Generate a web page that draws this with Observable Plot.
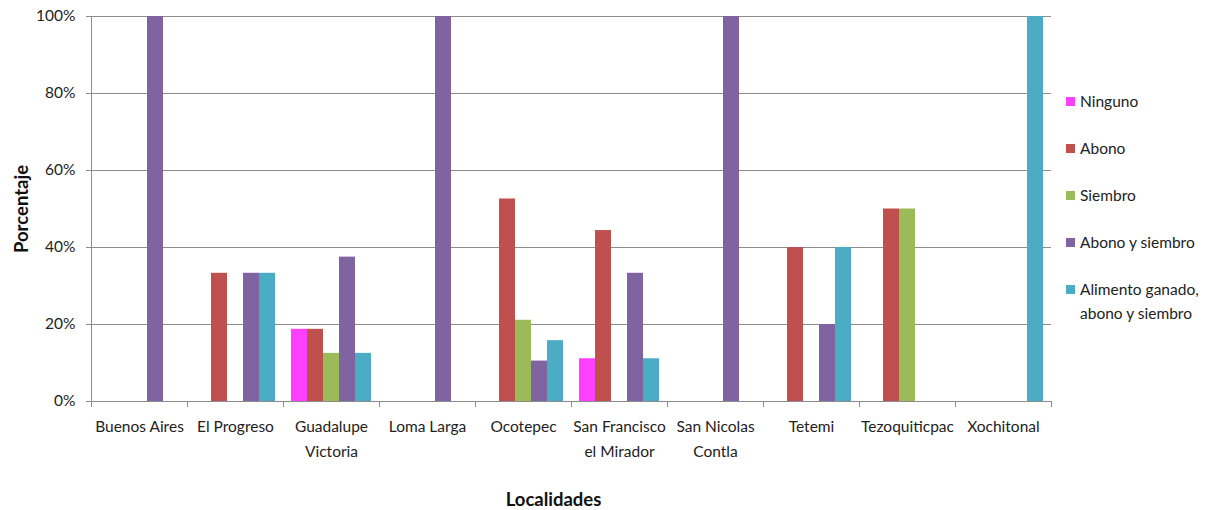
<!DOCTYPE html>
<html>
<head>
<meta charset="utf-8">
<script src="https://cdn.jsdelivr.net/npm/d3@7"></script>
<script src="https://cdn.jsdelivr.net/npm/@observablehq/plot@0.6"></script>
<style>
  body { margin: 0; background: #fff; }
  #wrap { position: relative; width: 1208px; height: 510px; font-family: Lato, "Open Sans", sans-serif; color: #222; }
  #legend { position: absolute; left: 1066px; top: 89px; font-size: 15.5px; }
  .item { display: flex; align-items: flex-start; line-height: 24px; margin-bottom: 23px; white-space: pre-line; }
  .sw { width: 9px; height: 9px; margin-top: 8px; margin-right: 5px; flex: none; }
</style>
</head>
<body>
<div id="wrap"><div id="legend"></div></div>
<script>
// ---- data ----
const localidades = ["Buenos Aires", "El Progreso", "Guadalupe Victoria", "Loma Larga", "Ocotepec",
  "San Francisco el Mirador", "San Nicolas Contla", "Tetemi", "Tezoquiticpac", "Xochitonal"];
const tickLabels = ["Buenos Aires", "El Progreso", "Guadalupe\nVictoria", "Loma Larga", "Ocotepec",
  "San Francisco\nel Mirador", "San Nicolas\nContla", "Tetemi", "Tezoquiticpac", "Xochitonal"];
const series = ["Ninguno", "Abono", "Siembro", "Abono y siembro", "Alimento ganado, abono y siembro"];
const legendLabels = ["Ninguno", "Abono", "Siembro", "Abono y siembro", "Alimento ganado,\nabono y siembro"];
const colors = ["#FF40FF", "#C0504D", "#9BBB59", "#8064A2", "#4BACC6"];

const ninguno      = [0, 0, 18.75, 0, 0, 11.1, 0, 0, 0, 0];
const abono        = [0, 33.3, 18.75, 0, 52.6, 44.4, 0, 40, 50, 0];
const siembro      = [0, 0, 12.5, 0, 21.1, 0, 0, 0, 50, 0];
const abonoSiembro = [100, 33.3, 37.5, 100, 10.5, 33.3, 100, 20, 0, 0];
const alimento     = [0, 33.3, 12.5, 0, 15.8, 11.1, 0, 40, 0, 100];
const yTicks = [0, 20, 40, 60, 80, 100];

const seriesValues = [ninguno, abono, siembro, abonoSiembro, alimento];
const data = [];
localidades.forEach((loc, i) => seriesValues.forEach((vals, j) => {
  if (vals[i] > 0) data.push({loc, serie: series[j], value: vals[i]});
}));

const gray = "#8c8c8c";
const plot = Plot.plot({
  width: 1208, height: 510,
  marginLeft: 89, marginRight: 156, marginTop: 16, marginBottom: 109,
  style: {fontFamily: "Lato, 'Open Sans', sans-serif", fontSize: "15.5px", color: "#222", background: "transparent", overflow: "visible"},
  fx: {domain: localidades, padding: 0, label: null, axis: null},
  x: {domain: series, paddingInner: 0, paddingOuter: 0.5, axis: null},
  y: {domain: [0, 100], label: null},
  color: {domain: series, range: colors},
  marks: [
    Plot.gridY(yTicks, {stroke: gray, strokeOpacity: 1}),
    Plot.barY(data, {fx: "loc", x: "serie", y: "value", fill: "serie"}),
    Plot.axisY(yTicks, {tickFormat: d => d + "%", tickSize: 5, tickPadding: 11, stroke: gray, label: null}),
    Plot.axisFx({anchor: "bottom", tickSize: 0, tickPadding: 13, lineHeight: 1.61, label: null,
      tickFormat: d => tickLabels[localidades.indexOf(d)]}),
    Plot.text(["Porcentaje"], {facet: "super", frameAnchor: "left", textAnchor: "middle", rotate: -90, dx: -69,
      fontWeight: "bold", fontSize: 18.5, fill: "#111"}),
    Plot.text(["Localidades"], {facet: "super", frameAnchor: "bottom", textAnchor: "middle", dx: -18, dy: 104,
      fontWeight: "bold", fontSize: 18.5, fill: "#111"})
  ]
});

// y-axis line and category boundary ticks from the plot's own scales
const fx = plot.scale("fx"), y = plot.scale("y");
const svg = d3.select(plot);
const y0 = y.apply(0), y1 = y.apply(100);
const bounds = fx.domain.map(d => fx.apply(d));
bounds.push(fx.apply(fx.domain[fx.domain.length - 1]) + fx.bandwidth);
const g = svg.append("g").attr("stroke", gray).attr("stroke-width", 1);
g.append("line").attr("x1", Math.round(bounds[0]) + 0.5).attr("x2", Math.round(bounds[0]) + 0.5).attr("y1", y1).attr("y2", y0 + 6);
g.selectAll("line.b").data(bounds.slice(1)).join("line").attr("class", "b")
  .attr("x1", d => Math.round(d) + 0.5).attr("x2", d => Math.round(d) + 0.5)
  .attr("y1", y0).attr("y2", y0 + 6);

document.getElementById("wrap").prepend(plot);

// legend
const legend = d3.select("#legend");
const items = legend.selectAll(".item").data(series).join("div").attr("class", "item");
items.append("div").attr("class", "sw").style("background", (d, i) => colors[i]);
items.append("div").text((d, i) => legendLabels[i]);
</script>
</body>
</html>
